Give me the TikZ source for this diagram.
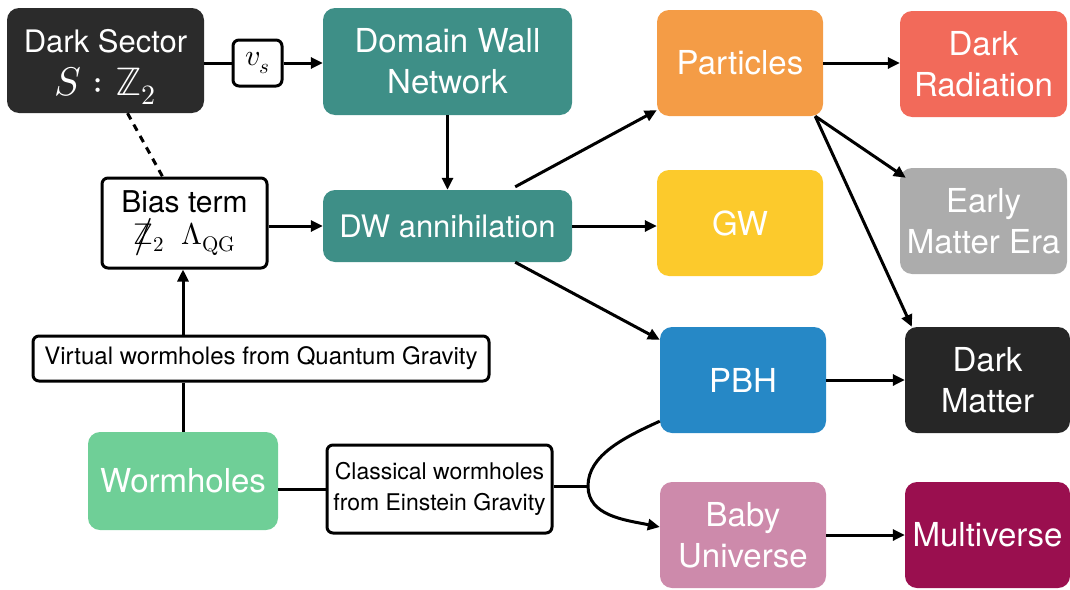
\documentclass[tikz,border=0pt]{standalone}
\usepackage{amsmath}
\usepackage{graphicx}
\usepackage{fontspec}
\usepackage{unicode-math}
\setmainfont{TeX Gyre Heros}
\setmathfont{Latin Modern Math}
\usetikzlibrary{arrows.meta,calc}
\definecolor{cdark}{HTML}{2B2B2B}
\definecolor{cteal}{HTML}{3E8F87}
\definecolor{corange}{HTML}{F49C46}
\definecolor{csalmon}{HTML}{F26A5A}
\definecolor{cyellow}{HTML}{FCCA2C}
\definecolor{cgray}{HTML}{ACACAC}
\definecolor{cblue}{HTML}{2688C6}
\definecolor{cdm}{HTML}{262626}
\definecolor{cgreen}{HTML}{6FCF97}
\definecolor{cpink}{HTML}{CD8AAB}
\definecolor{cmaroon}{HTML}{9A0F4F}
\tikzset{
  big/.style={rounded corners=12pt, inner sep=0pt, align=center, text=white,
    font=\fontsize{33}{41}\selectfont},
  wbox/.style={draw=black, line width=3pt, fill=white, rounded corners=6pt, inner sep=0pt, align=center},
  conn/.style={line width=3pt},
  arr/.style={line width=3pt, -{Triangle[length=12pt,width=11pt]}},
}
\begin{document}
\begin{tikzpicture}[x=1pt,y=-1pt]
\useasboundingbox (0,0) rectangle (1070,589);
% nodes
\node[big, fill=cdark, minimum width=197pt, minimum height=105pt, font=\fontsize{31}{36}\selectfont] (ds) at (105.5,60.5)
  {\rule{0pt}{36pt}Dark Sector\\[7pt]{\fontsize{40}{40}\selectfont$S:\mathbb{Z}_2$}};
\node[wbox, minimum width=49pt, minimum height=46pt, font=\fontsize{30}{32}\selectfont] (vs) at (257.5,63) {$v_s$};
\node[big, fill=cteal, minimum width=249pt, minimum height=107pt] (dwn) at (447.5,61.5) {Domain Wall\\Network};
\node[big, fill=corange, minimum width=166pt, minimum height=106pt] (part) at (740,63) {Particles};
\node[big, fill=csalmon, minimum width=167pt, minimum height=106pt] (drad) at (983.5,64) {Dark\\Radiation};
\node[wbox, minimum width=165pt, minimum height=90pt, font=\fontsize{30}{34}\selectfont] (bias) at (184.5,223)
  {Bias term\\[-2pt]{\fontsize{30}{32}\selectfont\ooalign{$\mathbb{Z}$\cr\hidewidth\raisebox{-2pt}{\scalebox{1.25}{$/$}}\hidewidth\cr}$_2\ \ \Lambda_{\symup{QG}}$}};
\node[big, fill=cteal, minimum width=249pt, minimum height=72pt, font=\fontsize{31}{36}\selectfont] (dwa) at (447.5,226) {DW annihilation};
\node[big, fill=cyellow, minimum width=166pt, minimum height=106pt] (gw) at (740,223) {GW};
\node[big, fill=cgray, minimum width=167pt, minimum height=106pt] (eme) at (983.5,221) {Early\\Matter Era};
\node[wbox, minimum width=456pt, minimum height=45pt, font=\fontsize{24}{28}\selectfont] (vir) at (261,358.5)
  {Virtual wormholes from Quantum Gravity};
\node[big, fill=cblue, minimum width=166pt, minimum height=106pt] (pbh) at (743,380) {PBH};
\node[big, fill=cdm, minimum width=165pt, minimum height=106pt] (dm) at (987.5,380) {Dark\\Matter};
\node[big, fill=cgreen, minimum width=190pt, minimum height=98pt] (wh) at (183,481) {Wormholes};
\node[wbox, minimum width=225pt, minimum height=88pt, font=\fontsize{23}{31}\selectfont] (cl) at (439.5,489)
  {Classical wormholes\\from Einstein Gravity};
\node[big, fill=cpink, minimum width=166pt, minimum height=106pt] (baby) at (743,535) {Baby\\Universe};
\node[big, fill=cmaroon, minimum width=165pt, minimum height=106pt] (mv) at (987.5,535) {Multiverse};
% connectors
\draw[conn] (ds.east |- vs.west) -- (vs.west);
\draw[arr] (vs.east) -- (dwn.west |- vs.east);
\draw[arr] (dwn.south) -- (dwa.north);
\draw[conn, dash pattern=on 7pt off 6pt] ([xshift=22pt]ds.south) -- ([xshift=-22pt]bias.north);
\draw[arr] (bias.east |- dwa.west) -- (dwa.west);
\draw[conn] (wh.north) -- (wh.north |- vir.south);
\draw[arr] (wh.north |- vir.north) -- (wh.north |- bias.south);
\draw[conn] (wh.east |- cl.west) -- (cl.west);
\draw[arr] ([xshift=-57pt,yshift=3pt]dwa.north east) -- ([yshift=6pt]part.south west);
\draw[arr] (dwa.east) -- (gw.west |- dwa.east);
\draw[arr] ([xshift=-57pt]dwa.south east) -- ([yshift=-13pt]pbh.north west);
\draw[arr] (part.east) -- (drad.west |- part.east);
\draw[arr] ([xshift=-8pt]part.south east) -- ([xshift=6pt,yshift=-10pt]eme.north west);
\draw[arr] ([xshift=-8pt]part.south east) -- ([xshift=7pt]dm.north west);
\draw[arr] (pbh.east) -- (dm.west);
\draw[arr] (baby.east) -- (mv.west);
\coordinate (split) at (588,486);
\draw[conn] (cl.east |- split) -- (split);
\draw[conn] (split) .. controls (588,455) and (625,437) .. ([yshift=12pt]pbh.south west);
\draw[arr] (split) .. controls (588,516) and (625,520) .. ([yshift=8pt]baby.west);
\end{tikzpicture}
\end{document}
